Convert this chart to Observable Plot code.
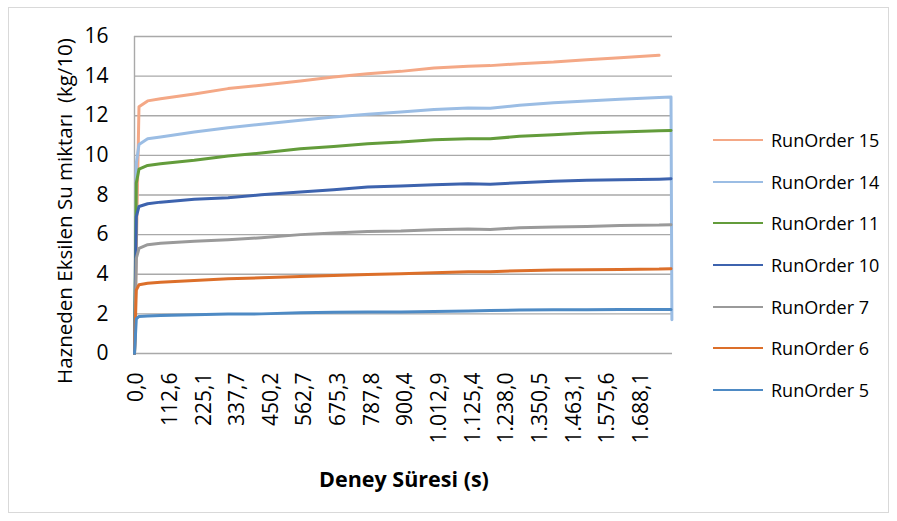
<!DOCTYPE html>
<html>
<head>
<meta charset="utf-8">
<script src="https://cdn.jsdelivr.net/npm/d3@7"></script>
<script src="https://cdn.jsdelivr.net/npm/@observablehq/plot@0.6"></script>
<style>
  html, body { margin: 0; padding: 0; background: #fff; }
  body { position: relative; width: 897px; height: 521px; overflow: hidden; font-family: "Open Sans", sans-serif; color: #000; }
  #frame { position: absolute; left: 8px; top: 7px; width: 881px; height: 506px; border: 1px solid #d9d9d9; box-sizing: border-box; }
  #chart { position: absolute; left: 0; top: 0; }
  #ytitle { position: absolute; left: 64px; top: 211px; transform: translate(-50%, -50%) rotate(-90deg); white-space: pre; font-size: 20.5px; line-height: 1; }
  #xtitle { position: absolute; left: 404px; top: 479px; transform: translate(-50%, -50%); font-size: 21.5px; font-weight: 700; white-space: pre; line-height: 1; }
  #legend { position: absolute; left: 713px; top: 119px; }
  .row { display: flex; align-items: center; height: 41.7px; }
  .row svg { display: block; margin-right: 8px; }
  .row span { font-size: 18px; line-height: 1; }
</style>
</head>
<body>
<div id="frame"></div>
<div id="chart"></div>
<div id="ytitle"></div>
<div id="xtitle"></div>
<div id="legend"></div>
<script>
// Water drawn from the tank (kg/10) against test time (s), one series per run.
const timeS = [0, 6, 15, 44, 87, 200, 313, 424, 555, 666, 780, 891, 1002, 1116, 1190, 1288, 1402, 1513, 1624, 1755, 1795, 1798];

const run15 = [0, 5.2, 12.45, 12.75, 12.86, 13.1, 13.37, 13.54, 13.75, 13.96, 14.12, 14.24, 14.41, 14.5, 14.53, 14.63, 14.71, 14.83, 14.93, 15.05, null, null];
const run14 = [0, 9.6, 10.55, 10.84, 10.93, 11.18, 11.4, 11.57, 11.77, 11.94, 12.07, 12.19, 12.32, 12.39, 12.38, 12.53, 12.66, 12.74, 12.83, 12.92, 12.95, 1.7];
const run11 = [0, 8.6, 9.3, 9.49, 9.58, 9.75, 9.97, 10.12, 10.34, 10.45, 10.59, 10.67, 10.79, 10.84, 10.84, 10.96, 11.04, 11.13, 11.18, 11.24, 11.26, null];
const run10 = [0, 6.9, 7.42, 7.56, 7.64, 7.78, 7.86, 8.01, 8.15, 8.27, 8.4, 8.45, 8.52, 8.57, 8.54, 8.62, 8.69, 8.74, 8.77, 8.8, 8.82, null];
const run7  = [0, 4.8, 5.3, 5.49, 5.57, 5.67, 5.74, 5.84, 6.0, 6.08, 6.16, 6.18, 6.25, 6.28, 6.26, 6.35, 6.38, 6.41, 6.46, 6.48, 6.5, null];
const run6  = [0, 3.2, 3.47, 3.55, 3.6, 3.69, 3.77, 3.82, 3.89, 3.94, 3.99, 4.02, 4.07, 4.12, 4.13, 4.18, 4.21, 4.23, 4.24, 4.26, 4.28, null];
const run5  = [0, 1.75, 1.87, 1.89, 1.92, 1.95, 1.99, 2.0, 2.06, 2.08, 2.09, 2.1, 2.12, 2.15, 2.17, 2.19, 2.21, 2.21, 2.22, 2.22, 2.22, null];

const seriesNames = ["RunOrder 15", "RunOrder 14", "RunOrder 11", "RunOrder 10", "RunOrder 7", "RunOrder 6", "RunOrder 5"];
const seriesValues = [run15, run14, run11, run10, run7, run6, run5];
const seriesColors = ["#F4A886", "#9BBDE4", "#639C3B", "#3D63AE", "#9A9A9A", "#DC6F2A", "#4E8AC4"];

const xTicks = [0, 112.6, 225.1, 337.7, 450.2, 562.7, 675.3, 787.8, 900.4, 1012.9, 1125.4, 1238.0, 1350.5, 1463.1, 1575.6, 1688.1];
const yTicks = [0, 2, 4, 6, 8, 10, 12, 14, 16];

const yTitle = "Hazneden Eksilen Su miktarı  (kg/10)";
const xTitle = "Deney Süresi (s)";

// Turkish number style: dot for thousands, comma for decimals
const trLocale = d3.formatLocale({decimal: ",", thousands: ".", grouping: [3], currency: ["", " ₺"]});
const fmtTime = trLocale.format(",.1f");

const rows = [];
seriesNames.forEach((name, si) => {
  seriesValues[si].forEach((v, i) => {
    if (v != null) rows.push({series: name, t: timeS[i], v});
  });
});

const gridColor = "#a9a9a9";

const chart = Plot.plot({
  width: 897,
  height: 521,
  marginLeft: 134,
  marginRight: 225,
  marginTop: 36,
  marginBottom: 168,
  style: {fontFamily: "'Open Sans', sans-serif", fontSize: "21px", color: "#000", background: "transparent", overflow: "visible"},
  x: {domain: [0, 1800], label: null},
  y: {domain: [0, 16], label: null},
  color: {domain: seriesNames, range: seriesColors},
  marks: [
    Plot.gridY(yTicks.filter(d => d > 0), {stroke: gridColor, strokeOpacity: 1, strokeWidth: 1.4}),
    Plot.ruleY([0], {stroke: gridColor, strokeWidth: 1.4}),
    Plot.ruleX([0], {stroke: gridColor, strokeWidth: 1.4}),
    Plot.axisY({ticks: yTicks, tickSize: 0, tickPadding: 26, tickFormat: d => String(d), label: null}),
    Plot.axisX({ticks: xTicks, tickSize: 0, tickPadding: 19, tickRotate: -90, tickFormat: fmtTime, label: null, dx: 2}),
    Plot.line(rows, {x: "t", y: "v", z: "series", stroke: "series", strokeWidth: 3, strokeLinejoin: "round"})
  ]
});
document.getElementById("chart").appendChild(chart);

document.getElementById("ytitle").textContent = yTitle;
document.getElementById("xtitle").textContent = xTitle;

const legend = document.getElementById("legend");
seriesNames.forEach((name, i) => {
  const row = document.createElement("div");
  row.className = "row";
  row.innerHTML = `<svg width="50" height="6"><line x1="0" x2="50" y1="3" y2="3" stroke="${seriesColors[i]}" stroke-width="2"/></svg><span>${name}</span>`;
  legend.appendChild(row);
});
</script>
</body>
</html>
